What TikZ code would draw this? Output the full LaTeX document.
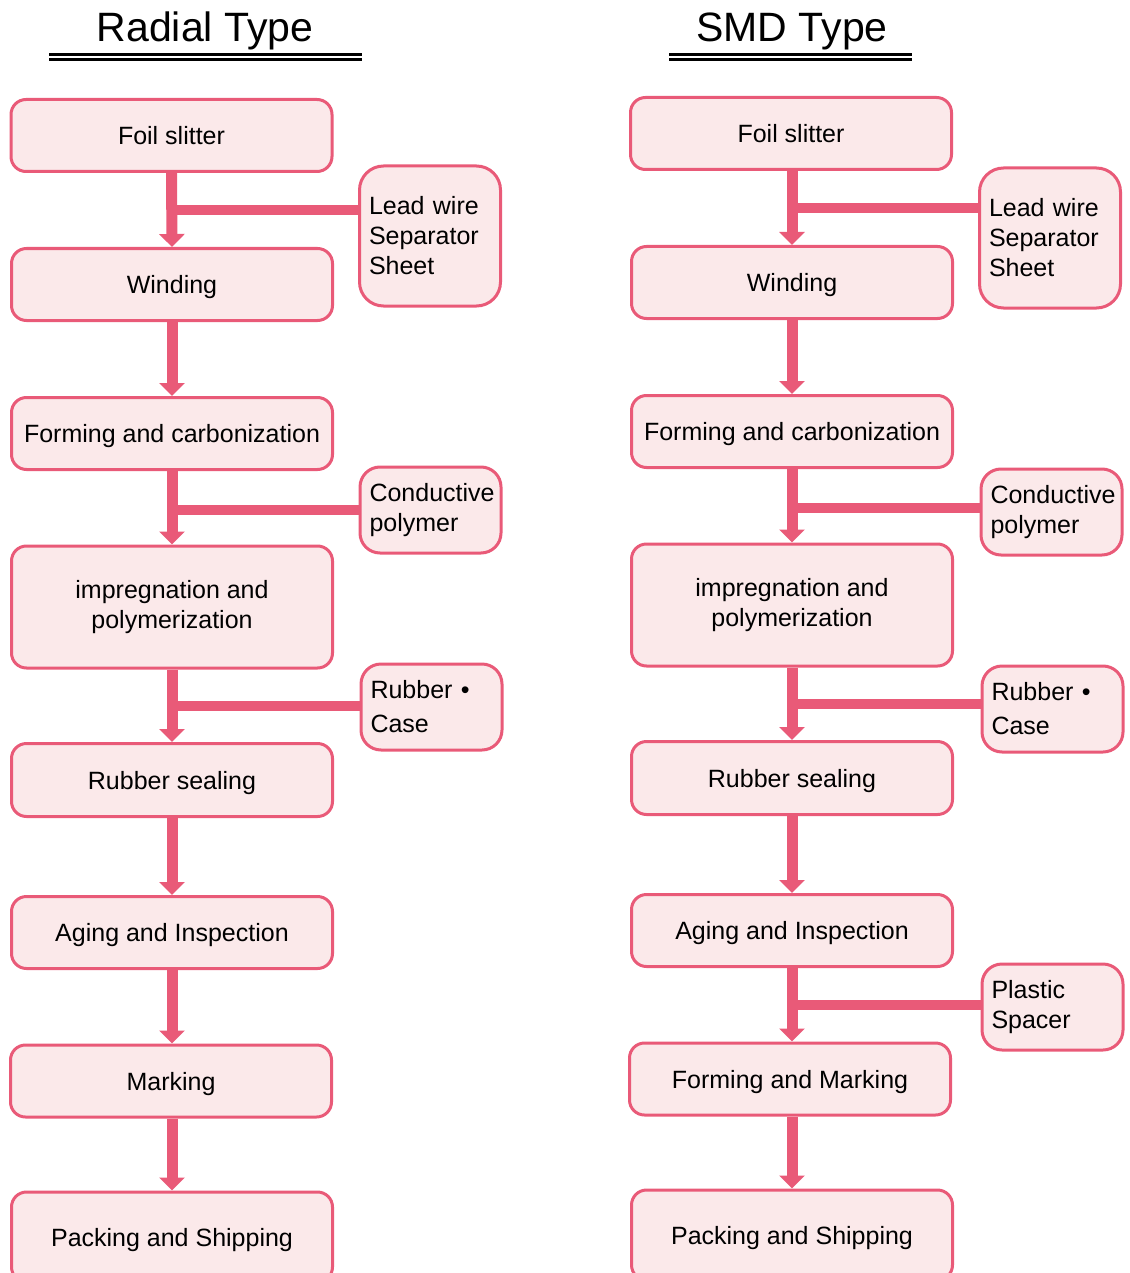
\documentclass[tikz,border=0pt]{standalone}
\usepackage{fontspec}
\setmainfont{Liberation Sans}
\usetikzlibrary{arrows.meta,calc}
\definecolor{pinkline}{HTML}{E95A78}
\definecolor{pinkfill}{HTML}{FBE9EA}
\tikzset{
  mainbox/.style={draw=pinkline, fill=pinkfill, line width=3pt, rounded corners=15pt,
    minimum width=321pt, minimum height=72pt, inner sep=0pt, align=center,
    text height=18pt, text depth=0pt,
    font=\fontsize{25}{30}\selectfont},
  twoline/.style={text height={}, text depth={}, yshift=0pt},
  sidebox/.style={draw=pinkline, fill=pinkfill, line width=3pt, rounded corners=20pt,
    text width=122pt, inner xsep=9.5pt, inner ysep=0pt, align=left,
    font=\fontsize{25}{30}\selectfont},
  flow/.style={draw=pinkline, line width=11pt, -{Triangle[width=25pt,length=13pt]}},
  branch/.style={draw=pinkline, line width=10pt},
  title/.style={font=\fontsize{41}{44}\selectfont, inner sep=0pt},
  uline/.style={draw=black, line width=2.6pt}
}
\begin{document}
\begin{tikzpicture}[x=1pt,y=-1pt]
\useasboundingbox (0,0) rectangle (1129,1273);
\begin{scope}
\clip (0,0) rectangle (1129,1273);
% titles
\node[title] (tl) at (205,31) {Radial Type};
\node[title] (tr) at (792,31) {SMD Type};
\coordinate (ul1a) at (49,54.5); \coordinate (ul1b) at (362,54.5);
\coordinate (ul2a) at (49,59.5); \coordinate (ul2b) at (362,59.5);
\draw[uline] (ul1a) -- (ul1b);
\draw[uline] (ul2a) -- (ul2b);
\coordinate (ur1a) at (669,54.5); \coordinate (ur1b) at (912,54.5);
\coordinate (ur2a) at (669,59.5); \coordinate (ur2b) at (912,59.5);
\draw[uline] (ur1a) -- (ur1b);
\draw[uline] (ur2a) -- (ur2b);

% left column
\node[mainbox] (lfoil) at (171.5,135.5) {Foil slitter};
\node[mainbox] (lwind) at (172,284.5) {Winding};
\node[mainbox] (lform) at (172,433.5) {Forming and carbonization};
\node[mainbox, twoline, minimum height=122pt] (limp) at (172,607) {impregnation and\\polymerization};
\node[mainbox, minimum height=73pt] (lrub) at (172,780) {Rubber sealing};
\node[mainbox] (lage) at (172,932.5) {Aging and Inspection};
\node[mainbox] (lmark) at (171,1081) {Marking};
\node[mainbox, minimum height=90pt] (lpack) at (172,1237) {Packing and Shipping};

\node[sidebox, rounded corners=24pt, minimum height=140pt] (llead) at (430,236) {Lead wire\\Separator\\Sheet};
\node[sidebox, minimum height=86pt] (lcond) at (430.5,510) {Conductive\\polymer};
\node[sidebox, minimum height=86pt] (lrc) at (431.5,707) {Rubber \textbullet\\[4pt]Case};

% right column
\node[mainbox] (rfoil) at (791,133.5) {Foil slitter};
\node[mainbox] (rwind) at (792,282.5) {Winding};
\node[mainbox] (rform) at (792,431.5) {Forming and carbonization};
\node[mainbox, twoline, minimum height=122pt] (rimp) at (792,605) {impregnation and\\polymerization};
\node[mainbox, minimum height=73pt] (rrub) at (792,778) {Rubber sealing};
\node[mainbox] (rage) at (792,930.5) {Aging and Inspection};
\node[mainbox] (rmark) at (790,1079) {Forming and Marking};
\node[mainbox, minimum height=90pt] (rpack) at (792,1235) {Packing and Shipping};

\node[sidebox, rounded corners=24pt, minimum height=140pt] (rlead) at (1050,238) {Lead wire\\Separator\\Sheet};
\node[sidebox, minimum height=86pt] (rcond) at (1051.5,512) {Conductive\\polymer};
\node[sidebox, minimum height=86pt] (rrc) at (1052.5,709) {Rubber \textbullet\\[4pt]Case};
\node[sidebox, minimum height=86pt] (rplas) at (1052.5,1007) {Plastic\\Spacer};

% branches left
\coordinate (lb1) at ($(lfoil.south)!0.5!(lwind.north)$);
\coordinate (lb2) at ($(lform.south)!0.5!(limp.north)+(0,2)$);
\coordinate (lb3) at ($(limp.south)!0.5!(lrub.north)$);
\draw[branch] (lb1) -- (lb1 -| llead.west);
\draw[branch] (lb2) -- (lb2 -| lcond.west);
\draw[branch] (lb3) -- (lb3 -| lrc.west);
% branches right
\coordinate (rb1) at ($(rfoil.south)!0.5!(rwind.north)$);
\coordinate (rb2) at ($(rform.south)!0.5!(rimp.north)+(0,2)$);
\coordinate (rb3) at ($(rimp.south)!0.5!(rrub.north)$);
\coordinate (rb4) at ($(rage.south)!0.5!(rmark.north)$);
\draw[branch] (rb1) -- (rb1 -| rlead.west);
\draw[branch] (rb2) -- (rb2 -| rcond.west);
\draw[branch] (rb3) -- (rb3 -| rrc.west);
\draw[branch] (rb4) -- (rb4 -| rplas.west);

% flows left
\draw[flow] (lfoil.south) -- (lwind.north);
\draw[flow] (lwind.south) -- (lform.north);
\draw[flow] (lform.south) -- (limp.north);
\draw[flow] (limp.south) -- (lrub.north);
\draw[flow] (lrub.south) -- (lage.north);
\draw[flow] (lage.south) -- (lage.south |- lmark.north);
\draw[flow] (lmark.south -| lpack.north) -- (lpack.north);
% flows right
\draw[flow] (rfoil.south -| rwind.north) -- (rwind.north);
\draw[flow] (rwind.south) -- (rform.north);
\draw[flow] (rform.south) -- (rimp.north);
\draw[flow] (rimp.south) -- (rrub.north);
\draw[flow] (rrub.south) -- (rage.north);
\draw[flow] (rage.south) -- (rage.south |- rmark.north);
\draw[flow] (rmark.south -| rpack.north) -- (rpack.north);
\end{scope}
\end{tikzpicture}
\end{document}
